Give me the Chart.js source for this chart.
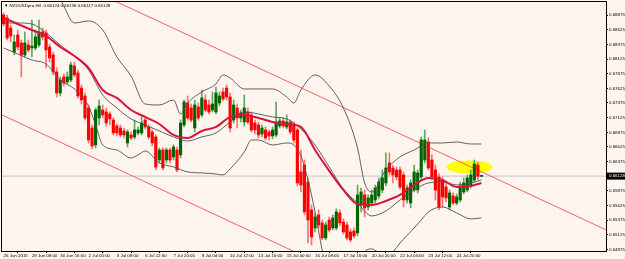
<!DOCTYPE html>
<html>
<head>
<meta charset="utf-8">
<script src="https://cdn.jsdelivr.net/npm/chart.js@4.4.1/dist/chart.umd.min.js"></script>
<style>
  html, body { margin: 0; padding: 0; background: #fef5ee; }
  canvas { display: block; }
</style>
</head>
<body>
<canvas id="chart" width="625" height="259"></canvas>
<script>
// NZDUSD H4 candles, bar 0 = 26 Jun 2015 04:00
const symbolTitle = 'NZDUSDpro,H4';
const titleQuote = '0.66124 0.66138 0.66117 0.66128';
const lastPrice = 0.66128;

const open = [0.68876,0.68825,0.68654,0.68245,0.68535,0.68398,0.68194,0.68364,0.68313,0.68313,
  0.68364,0.68586,0.68569,0.68330,0.68194,0.67904,0.67546,0.67819,0.67733,0.67767,
  0.68006,0.67887,0.67631,0.67495,0.67290,0.66949,0.66659,0.67120,0.67256,0.67222,
  0.67188,0.67085,0.66983,0.66949,0.66898,0.66693,0.66830,0.66796,0.66864,0.66864,
  0.67085,0.66966,0.66881,0.66796,0.66403,0.66574,0.66403,0.66574,0.66455,0.66574,
  0.66489,0.67000,0.67375,0.67290,0.66949,0.67307,0.67171,0.67426,0.67341,0.67256,
  0.67222,0.67375,0.67563,0.67631,0.67478,0.67085,0.67290,0.67120,0.67051,0.67222,
  0.67171,0.67034,0.67000,0.66847,0.66915,0.66881,0.66813,0.66830,0.66983,0.67068,
  0.66966,0.67051,0.67000,0.66915,0.66199,0.66318,0.66028,0.65551,0.65244,0.65466,
  0.65329,0.65074,0.65380,0.65244,0.65244,0.65500,0.65346,0.65295,0.65176,0.65193,
  0.65159,0.65636,0.65807,0.65602,0.65670,0.65721,0.65790,0.65892,0.66011,0.66352,
  0.66267,0.66233,0.66233,0.66148,0.65721,0.65670,0.65892,0.65892,0.66114,0.66403,
  0.66710,0.66403,0.66233,0.66114,0.66062,0.65943,0.65602,0.65790,0.65670,0.65721,
  0.65858,0.65892,0.65977,0.66062,0.66318,0.66124];
const high = [0.68910,0.68876,0.68705,0.68535,0.68620,0.68449,0.68586,0.68449,0.68790,0.68620,
  0.68790,0.68654,0.68620,0.68381,0.68245,0.67972,0.67819,0.67870,0.67904,0.68074,
  0.68074,0.67938,0.67682,0.67546,0.67341,0.67000,0.67290,0.67426,0.67341,0.67290,
  0.67222,0.67120,0.67017,0.67000,0.66949,0.66915,0.66881,0.67085,0.66966,0.67137,
  0.67137,0.67000,0.66915,0.66830,0.66608,0.66608,0.66608,0.66608,0.66659,0.66625,
  0.67085,0.67426,0.67495,0.67358,0.67426,0.67375,0.67597,0.67512,0.67426,0.67563,
  0.67648,0.67563,0.67631,0.67682,0.67546,0.67426,0.67358,0.67256,0.67512,0.67290,
  0.67222,0.67085,0.67051,0.67000,0.66966,0.66915,0.66966,0.67392,0.67120,0.67120,
  0.67171,0.67085,0.67051,0.66949,0.66574,0.66403,0.66097,0.65636,0.65500,0.65551,
  0.65380,0.65346,0.65432,0.65466,0.65568,0.65551,0.65398,0.65346,0.65227,0.65244,
  0.65977,0.65926,0.65892,0.65807,0.65892,0.65977,0.66097,0.66233,0.66523,0.66523,
  0.66318,0.66284,0.66284,0.66199,0.65977,0.66062,0.66318,0.66233,0.66796,0.66915,
  0.66779,0.66489,0.66318,0.66165,0.66114,0.66011,0.65892,0.65841,0.65824,0.66028,
  0.66097,0.66148,0.66233,0.66403,0.66369,0.66138];
const low = [0.68688,0.68449,0.68415,0.68194,0.68279,0.67819,0.68160,0.68245,0.68160,0.68279,
  0.68330,0.68449,0.67972,0.68074,0.67853,0.67478,0.67495,0.67665,0.67699,0.67733,
  0.67819,0.67461,0.67358,0.67085,0.66693,0.66591,0.66608,0.67000,0.67120,0.66983,
  0.67000,0.66830,0.66813,0.66796,0.66779,0.66625,0.66744,0.66762,0.66830,0.66830,
  0.66932,0.66762,0.66642,0.66233,0.66352,0.66233,0.66352,0.66352,0.66403,0.66199,
  0.66438,0.66966,0.67085,0.67051,0.66881,0.67085,0.67137,0.67222,0.67188,0.67222,
  0.67188,0.67324,0.67409,0.67426,0.66881,0.67034,0.66949,0.67051,0.66983,0.67017,
  0.66881,0.66847,0.66779,0.66796,0.66744,0.66744,0.66762,0.66796,0.66949,0.66949,
  0.66932,0.66847,0.66693,0.65960,0.65858,0.65466,0.64988,0.64954,0.65176,0.65244,
  0.65039,0.65039,0.65176,0.65210,0.65210,0.65278,0.65142,0.65039,0.65005,0.65074,
  0.65108,0.65517,0.65432,0.65551,0.65619,0.65670,0.65739,0.65841,0.65960,0.66148,
  0.66011,0.66062,0.65909,0.65602,0.65670,0.65585,0.65858,0.65841,0.66062,0.66352,
  0.66233,0.66062,0.65721,0.65551,0.65602,0.65687,0.65551,0.65636,0.65636,0.65687,
  0.65824,0.65858,0.65926,0.66028,0.66062,0.66117];
const close = [0.68722,0.68484,0.68518,0.68415,0.68330,0.68194,0.68398,0.68279,0.68347,0.68501,
  0.68586,0.68501,0.68279,0.68143,0.67904,0.67546,0.67767,0.67716,0.67819,0.68023,
  0.67853,0.67495,0.67426,0.67120,0.66744,0.66642,0.67256,0.67324,0.67171,0.67034,
  0.67103,0.66864,0.66864,0.66830,0.66830,0.66881,0.66779,0.66915,0.66915,0.67034,
  0.66966,0.66796,0.66693,0.66284,0.66574,0.66267,0.66574,0.66403,0.66625,0.66233,
  0.67034,0.67392,0.67120,0.67085,0.67341,0.67120,0.67461,0.67256,0.67222,0.67358,
  0.67546,0.67495,0.67444,0.67478,0.66949,0.67341,0.67120,0.67205,0.67290,0.67051,
  0.66915,0.66915,0.66830,0.66949,0.66779,0.66813,0.66915,0.67051,0.67068,0.66983,
  0.67051,0.66881,0.66744,0.66011,0.65977,0.65517,0.65380,0.65091,0.65432,0.65295,
  0.65074,0.65295,0.65210,0.65415,0.65517,0.65329,0.65176,0.65074,0.65039,0.65108,
  0.65807,0.65858,0.65585,0.65756,0.65807,0.65926,0.66028,0.66097,0.66267,0.66199,
  0.66148,0.66114,0.65943,0.65721,0.65926,0.66011,0.66199,0.66182,0.66744,0.66744,
  0.66267,0.66114,0.65892,0.65602,0.65773,0.65756,0.65841,0.65670,0.65773,0.65960,
  0.66011,0.66097,0.66148,0.66335,0.66124,0.66128];

const maBars = [0,4,8,12,16,20,24,28,32,36,40,44,48,52,56,60,64,68,72,76,80,84,88,92,96,100,104,108,112,116,120,124,128,132,135];
const maValues = [0.68825,0.68722,0.68620,0.68518,0.68330,0.68177,0.67972,0.67597,0.67461,0.67256,
  0.67137,0.67017,0.66830,0.66779,0.66898,0.66966,0.67137,0.67171,0.67120,0.67051,
  0.67017,0.66966,0.66574,0.66216,0.65892,0.65653,0.65636,0.65704,0.65807,0.65977,
  0.66097,0.66062,0.65943,0.65960,0.66011];
const bbMidBars = maBars;
const bbMidValues = [0.68739,0.68739,0.68722,0.68569,0.68364,0.68177,0.67938,0.67512,0.67290,0.67103,
  0.67000,0.66898,0.66796,0.66727,0.66796,0.66864,0.67051,0.67222,0.67188,0.67137,
  0.67103,0.66932,0.66659,0.66284,0.65909,0.65670,0.65449,0.65534,0.65721,0.65892,
  0.66011,0.66028,0.65977,0.66011,0.66062];
const bbUpBars = [0,4,8,12,16,20,24,28,32,36,40,44,48,50,52,56,60,62,64,68,72,76,80,82,84,88,92,96,100,102,104,108,112,116,120,124,128,132,135];
const bbUpValues = [0.69336,0.69370,0.69370,0.69267,0.69131,0.68739,0.68773,0.68620,0.68160,0.67836,
  0.67358,0.67341,0.67426,0.67188,0.67375,0.67563,0.67699,0.67853,0.67802,0.67614,
  0.67614,0.67614,0.67478,0.67375,0.67597,0.67853,0.67665,0.67290,0.66608,0.66011,
  0.65858,0.66233,0.66455,0.66574,0.66693,0.66693,0.66710,0.66676,0.66676];
const bbLowBars = [0,4,8,12,16,20,24,26,28,32,36,38,40,44,48,52,56,60,62,64,68,70,72,76,80,82,84,86,88,90,92,96,100,102,104,106,108,110,112,116,118,120,124,128,132,135];
const bbLowValues = [0.68313,0.68211,0.68108,0.68040,0.67767,0.67614,0.67324,0.67000,0.66659,0.66574,
  0.66438,0.66489,0.66557,0.66352,0.66284,0.66199,0.66182,0.66165,0.66148,0.66250,
  0.66540,0.66744,0.66744,0.66659,0.66693,0.66659,0.66472,0.66062,0.65517,0.64869,
  0.64357,0.64016,0.64528,0.64835,0.64886,0.64818,0.64733,0.64835,0.64988,0.65244,
  0.65380,0.65517,0.65602,0.65500,0.65398,0.65415];

// channel trend lines: [bar, price] end points
const channelUpper = [[20, 0.69436], [171, 0.65189]];
const channelLower = [[-1, 0.67187], [90, 0.64618]];

// yellow marker: centre [bar, price], half size [bars, price]
const ellipseCenter = [131.6, 0.66284];
const ellipseHalf = [6.5, 0.00111];

const xTickBars = [0,8,16,24,32,40,48,56,64,72,80,88,96,104,112,120,128];
const xTickLabels = ['26 Jun 2015','29 Jun 08:00','30 Jun 16:00','2 Jul 00:00','3 Jul 08:00','6 Jul 12:00',
  '7 Jul 20:00','9 Jul 04:00','10 Jul 12:00','13 Jul 16:00','15 Jul 00:00','16 Jul 08:00',
  '17 Jul 16:00','20 Jul 20:00','22 Jul 04:00','23 Jul 12:00','24 Jul 20:00'];
const yTickValues = [0.68875,0.68625,0.68375,0.68125,0.67875,0.67625,0.67375,0.67125,0.66875,
  0.66625,0.66375,0.65875,0.65625,0.65375,0.65125,0.64875];
const yTickLabels = ['0.68875','0.68625','0.68375','0.68125','0.67875','0.67625','0.67375','0.67125','0.66875',
  '0.66625','0.66375','0.65875','0.65625','0.65375','0.65125','0.64875'];

const FONT = 'Liberation Sans';
const FSIZE = 4.4;

function pts(bars, vals) {
  return bars.map((b, i) => ({ x: b, y: vals[i] }));
}

const bullBody = '#006400', bearBody = '#ff0000';
const bullWick = '#5fa85f', bearWick = '#ff7070';
const isBull = close.map((c, i) => c >= open[i]);

const overlay = {
  id: 'overlay',
  beforeDatasetsDraw(chart) {
    const { ctx, scales: { x, y } } = chart;
    const cx = x.getPixelForValue(ellipseCenter[0]);
    const cy = y.getPixelForValue(ellipseCenter[1]);
    const rx = Math.abs(x.getPixelForValue(ellipseCenter[0] + ellipseHalf[0]) - cx);
    const ry = Math.abs(y.getPixelForValue(ellipseCenter[1] + ellipseHalf[1]) - cy);
    ctx.save();
    ctx.fillStyle = '#ffff00';
    ctx.beginPath();
    ctx.ellipse(cx, cy, rx, ry, 0, 0, Math.PI * 2);
    ctx.fill();
    ctx.restore();
  },
  afterDraw(chart) {
    const { ctx, chartArea: a, scales: { y } } = chart;
    ctx.save();
    // frame
    ctx.strokeStyle = '#000';
    ctx.lineWidth = 1;
    ctx.strokeRect(Math.round(a.left) - 0.5, Math.round(a.top) - 0.5,
      Math.round(a.right - a.left) + 1, Math.round(a.bottom - a.top) + 1);
    // title
    ctx.fillStyle = '#000';
    ctx.font = FSIZE + 'px "' + FONT + '"';
    ctx.textBaseline = 'middle';
    ctx.textAlign = 'left';
    ctx.fillText('\u25BC ' + symbolTitle + '  ' + titleQuote, a.left + 2, a.top + 4);
    // current price label
    const py = y.getPixelForValue(lastPrice);
    ctx.fillRect(a.right + 1, py - 3.5, 625 - a.right - 1, 7);
    ctx.fillStyle = '#fff';
    ctx.fillText(lastPrice.toFixed(5), a.right + 3, py);
    ctx.restore();
  }
};

new Chart(document.getElementById('chart'), {
  type: 'bar',
  data: {
    datasets: [
      {
        type: 'line', order: 20,
        data: [{ x: -1, y: lastPrice }, { x: 172, y: lastPrice }],
        borderColor: '#c4c4c4', borderWidth: 1, pointRadius: 0
      },
      {
        type: 'line', order: 19,
        data: channelUpper.map(p => ({ x: p[0], y: p[1] })),
        borderColor: '#ff3a3a', borderWidth: 0.8, pointRadius: 0
      },
      {
        type: 'line', order: 19,
        data: channelLower.map(p => ({ x: p[0], y: p[1] })),
        borderColor: '#ff3a3a', borderWidth: 0.8, pointRadius: 0
      },
      {
        order: 10, grouped: false,
        data: low.map((l, i) => ({ x: i, y: [l, high[i]] })),
        backgroundColor: isBull.map(b => b ? bullWick : bearWick),
        barThickness: 1
      },
      {
        order: 9, grouped: false, minBarLength: 1,
        data: open.map((o, i) => ({ x: i, y: [o, close[i]] })),
        backgroundColor: isBull.map(b => b ? bullBody : bearBody),
        barThickness: 2.5
      },
      {
        type: 'line', order: 5,
        data: pts(bbUpBars, bbUpValues),
        borderColor: '#505050', borderWidth: 0.9, pointRadius: 0, cubicInterpolationMode: 'monotone'
      },
      {
        type: 'line', order: 5,
        data: pts(bbMidBars, bbMidValues),
        borderColor: '#505050', borderWidth: 0.9, pointRadius: 0, cubicInterpolationMode: 'monotone'
      },
      {
        type: 'line', order: 5,
        data: pts(bbLowBars, bbLowValues),
        borderColor: '#505050', borderWidth: 0.9, pointRadius: 0, cubicInterpolationMode: 'monotone'
      },
      {
        type: 'line', order: 1,
        data: pts(maBars, maValues),
        borderColor: '#dc143c', borderWidth: 2, pointRadius: 0, cubicInterpolationMode: 'monotone'
      }
    ]
  },
  options: {
    responsive: false,
    animation: false,
    devicePixelRatio: 1,
    layout: { padding: { left: 2, top: 2, right: 0, bottom: 0 } },
    plugins: { legend: { display: false }, tooltip: { enabled: false } },
    scales: {
      x: {
        type: 'linear', position: 'bottom', offset: false,
        min: -0.45, max: 170.2,
        afterBuildTicks: s => { s.ticks = xTickBars.map(v => ({ value: v })); },
        afterFit: s => { s.height = 8; s.paddingLeft = 0; s.paddingRight = 0; },
        ticks: {
          autoSkip: false, maxRotation: 0, minRotation: 0, align: 'start', padding: 0,
          color: '#000', font: { family: FONT, size: FSIZE },
          callback: (v, i) => xTickLabels[i]
        },
        grid: { drawOnChartArea: false, drawTicks: true, tickLength: 2, color: '#000' },
        border: { display: false }
      },
      y: {
        type: 'linear', position: 'right',
        min: 0.64851, max: 0.69097,
        afterBuildTicks: s => { s.ticks = yTickValues.map(v => ({ value: v })); },
        afterFit: s => { s.width = 19; s.paddingTop = 0; s.paddingBottom = 0; },
        ticks: {
          autoSkip: false, padding: 1,
          color: '#000', font: { family: FONT, size: FSIZE },
          callback: (v, i) => yTickLabels[i]
        },
        grid: { drawOnChartArea: false, drawTicks: true, tickLength: 2, color: '#000' },
        border: { display: false }
      }
    }
  },
  plugins: [overlay]
});
</script>
</body>
</html>
